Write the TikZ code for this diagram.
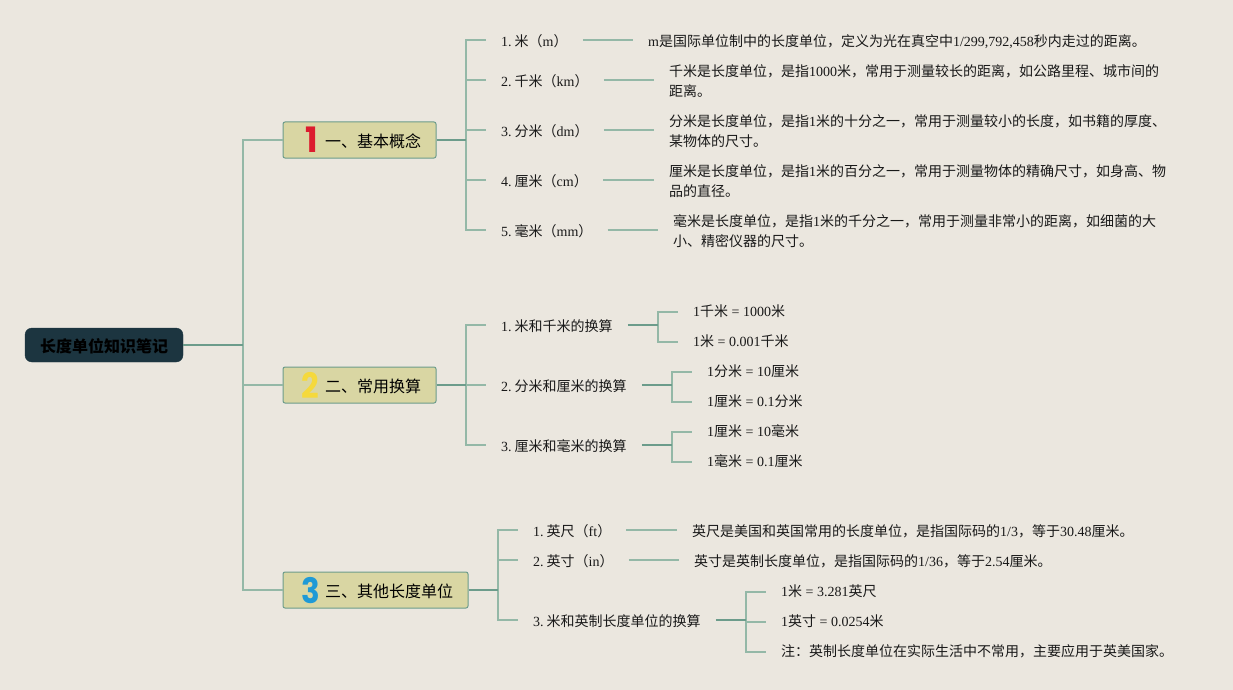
\documentclass[tikz,border=0pt]{standalone}
\usepackage{fontspec}
\usepackage{graphicx}
\setmainfont{Liberation Serif}
\newfontfamily\cjk{Noto Sans CJK SC}
\newfontfamily\digitfont{Poppins}
\XeTeXinterchartokenstate=1
\chardef\cjkclass=7
\newcount\cjkcnt
\cjkcnt="4E00
\loop\ifnum\cjkcnt<"A000
  \XeTeXcharclass\cjkcnt=\cjkclass
  \advance\cjkcnt by 1
\repeat
\XeTeXcharclass"3001=\cjkclass
\XeTeXcharclass"3002=\cjkclass
\XeTeXcharclass"FF08=\cjkclass
\XeTeXcharclass"FF09=\cjkclass
\XeTeXcharclass"FF0C=\cjkclass
\XeTeXcharclass"FF1A=\cjkclass
\XeTeXinterchartoks 0 \cjkclass = {\begingroup\cjk}
\XeTeXinterchartoks 4095 \cjkclass = {\begingroup\cjk}
\XeTeXinterchartoks \cjkclass 0 = {\endgroup}
\XeTeXinterchartoks \cjkclass 4095 = {\endgroup}
\newcommand\numgap{\hspace{3pt}}
\definecolor{bgc}{HTML}{EBE7DF}
\definecolor{lnl}{HTML}{94B8A7}
\definecolor{lnd}{HTML}{6C9C8B}
\definecolor{topicf}{HTML}{D9D6A3}
\definecolor{rootf}{HTML}{1C3540}
\definecolor{redd}{HTML}{DC1C2E}
\definecolor{yeld}{HTML}{F5D93C}
\definecolor{blud}{HTML}{1F9AD6}
\tikzset{
  rootbox/.style={draw=rootf,fill=rootf,rounded corners=7pt,minimum width=158pt,minimum height=34pt,inner sep=0pt},
  topicbox/.style={draw=lnd,fill=topicf,line width=1pt,rounded corners=2pt,minimum height=36pt,inner sep=0pt},
  topictext/.style={anchor=west,inner sep=0pt,font=\fontsize{16}{20}\selectfont},
  digit/.style={inner sep=0pt,font=\fontsize{35}{35}\digitfont\bfseries},
  leaf/.style={anchor=west,inner xsep=15pt,inner ysep=0pt,align=left,font=\fontsize{14}{20}\selectfont,text=black!90},
  thick main/.style={draw=lnd,line width=1.6pt},
  thin main/.style={draw=lnl,line width=1.4pt},
}
\begin{document}
\begin{tikzpicture}[x=1pt,y=-1pt]
\useasboundingbox (0,0) rectangle (1233,690);
\fill[bgc] (0,0) rectangle (1233,690);
% root and topics
\node[rootbox] (root) at (104,345) {};
\node[text=black,font=\fontsize{16}{20}\selectfont\bfseries] (roott) at (104,346) {长度单位知识笔记};
\node[topicbox,minimum width=153pt] (t1) at (359.5,140) {};
\node[topicbox,minimum width=153pt] (t2) at (359.5,385) {};
\node[topicbox,minimum width=185pt] (t3) at (375.5,590) {};
\node[digit,text=redd] (d1) at (311.5,140) {\scalebox{.95}[1]{1}};
\node[digit,text=yeld] (d2) at (310.5,385.5) {\scalebox{.88}[1]{2}};
\node[digit,text=blud] (d3) at (310.5,590.5) {\scalebox{.88}[1]{3}};
\node[topictext] (t1t) at (325,141) {一、基本概念};
\node[topictext] (t2t) at (325,386) {二、常用换算};
\node[topictext] (t3t) at (325,591) {三、其他长度单位};
\coordinate (jr) at (243,345);
\coordinate (j1) at (466,140);
\coordinate (j2) at (466,385);
\coordinate (j3) at (498,590);
% level 2 text nodes
\node[leaf] (a1) at (486,41) {1.\numgap 米（m）};
\node[leaf] (a2) at (486,81) {2.\numgap 千米（km）};
\node[leaf] (a3) at (486,131) {3.\numgap 分米（dm）};
\node[leaf] (a4) at (486,181) {4.\numgap 厘米（cm）};
\node[leaf] (a5) at (486,231) {5.\numgap 毫米（mm）};
\node[leaf] (b1) at (486,326) {1.\numgap 米和千米的换算};
\node[leaf] (b2) at (486,386) {2.\numgap 分米和厘米的换算};
\node[leaf] (b3) at (486,446) {3.\numgap 厘米和毫米的换算};
\node[leaf] (c1) at (518,531) {1.\numgap 英尺（ft）};
\node[leaf] (c2) at (518,561) {2.\numgap 英寸（in）};
\node[leaf] (c3) at (518,621) {3.\numgap 米和英制长度单位的换算};
% level 3
\node[leaf] (a1d) at (633,41.6) {m是国际单位制中的长度单位，定义为光在真空中1/299,792,458秒内走过的距离。};
\node[leaf] (a2d) at (654,81.6) {千米是长度单位，是指1000米，常用于测量较长的距离，如公路里程、城市间的\\距离。};
\node[leaf] (a3d) at (654,131.6) {分米是长度单位，是指1米的十分之一，常用于测量较小的长度，如书籍的厚度、\\某物体的尺寸。};
\node[leaf] (a4d) at (654,181.6) {厘米是长度单位，是指1米的百分之一，常用于测量物体的精确尺寸，如身高、物\\品的直径。};
\node[leaf] (a5d) at (658,231.6) {毫米是长度单位，是指1米的千分之一，常用于测量非常小的距离，如细菌的大\\小、精密仪器的尺寸。};
\node[leaf] (b1a) at (678,311) {1千米 = 1000米};
\node[leaf] (b1b) at (678,341) {1米 = 0.001千米};
\node[leaf] (b2a) at (692,371) {1分米 = 10厘米};
\node[leaf] (b2b) at (692,401) {1厘米 = 0.1分米};
\node[leaf] (b3a) at (692,431) {1厘米 = 10毫米};
\node[leaf] (b3b) at (692,461) {1毫米 = 0.1厘米};
\node[leaf] (c1d) at (677,531) {英尺是美国和英国常用的长度单位，是指国际码的1/3，等于30.48厘米。};
\node[leaf] (c2d) at (679,561) {英寸是英制长度单位，是指国际码的1/36，等于2.54厘米。};
\node[leaf] (c3a) at (766,591) {1米 = 3.281英尺};
\node[leaf] (c3b) at (766,621) {1英寸 = 0.0254米};
\node[leaf] (c3c) at (766,651) {注：英制长度单位在实际生活中不常用，主要应用于英美国家。};
% connectors root
\draw[thin main] (jr) |- (t1.west);
\draw[thin main] (jr) |- (t2.west);
\draw[thin main] (jr) |- (t3.west);
\draw[thick main] (root.east) -- (jr);
% topic to junction
\foreach \c in {a1,a2,a3,a4,a5}{\draw[thin main] (j1) |- ([yshift=1pt]\c.west);}
\foreach \c in {b1,b2,b3}{\draw[thin main] (j2) |- ([yshift=1pt]\c.west);}
\foreach \c in {c1,c2,c3}{\draw[thin main] (j3) |- ([yshift=1pt]\c.west);}
\draw[thick main] (t1.east) -- (j1);
\draw[thick main] (t2.east) -- (j2);
\draw[thick main] (t3.east) -- (j3);
% leaf to description
\foreach \p/\q in {a1/a1d,a2/a2d,a3/a3d,a4/a4d,a5/a5d}{
  \draw[thin main] ([yshift=1pt]\p.east) -- ([yshift=1.6pt]\q.west);}
\foreach \p/\q in {c1/c1d,c2/c2d}{
  \draw[thin main] ([yshift=1pt]\p.east) -- ([yshift=1pt]\q.west);}
% sub junctions
\coordinate (k1) at (658,325);
\coordinate (k2) at (672,385);
\coordinate (k3) at (672,445);
\coordinate (k4) at (746,620);
\draw[thin main] (k1) |- ([yshift=-1pt]b1a.west);
\draw[thin main] (k1) |- ([yshift=-1pt]b1b.west);
\draw[thin main] (k2) |- ([yshift=-1pt]b2a.west);
\draw[thin main] (k2) |- ([yshift=-1pt]b2b.west);
\draw[thin main] (k3) |- ([yshift=-1pt]b3a.west);
\draw[thin main] (k3) |- ([yshift=-1pt]b3b.west);
\draw[thin main] (k4) |- ([yshift=-1pt]c3a.west);
\draw[thin main] (k4) |- ([yshift=-1pt]c3b.west);
\draw[thin main] (k4) |- ([yshift=-1pt]c3c.west);
\draw[thick main] ([yshift=1pt]b1.east) -- (k1);
\draw[thick main] ([yshift=1pt]b2.east) -- (k2);
\draw[thick main] ([yshift=1pt]b3.east) -- (k3);
\draw[thick main] ([yshift=1pt]c3.east) -- (k4);
\end{tikzpicture}
\end{document}
